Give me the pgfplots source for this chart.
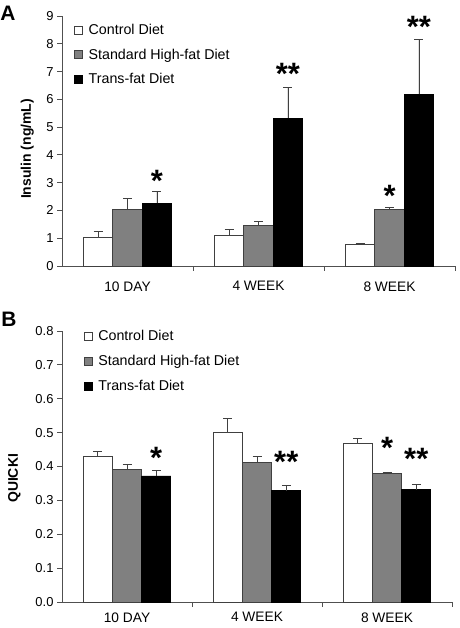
\documentclass[border=0pt]{standalone}
\usepackage{pgfplots}
\pgfplotsset{compat=1.18}
\usepackage{fontspec}
\setmainfont{Liberation Sans}
\definecolor{axgray}{HTML}{505050}
\definecolor{barline}{HTML}{404040}
\definecolor{midgray}{HTML}{808080}
\pgfplotsset{
  /pgf/number format/assume math mode=true,
  common/.style={
    scale only axis,
    xmin=-0.5, xmax=2.5, ymin=0,
    axis x line*=bottom, axis y line*=left,
    axis line style={draw=axgray, line width=0.8bp},
    tick align=outside,
    major tick length=5bp, minor tick length=5bp,
    xtick={0,1,2}, xticklabels={10 DAY,4 WEEK,8 WEEK},
    minor xtick={0.5,1.5,2.5},
    major x tick style={draw=none},
    minor x tick style={draw=axgray, line width=0.8bp},
    ytick style={draw=axgray, line width=0.8bp},
    tick label style={font=\fontsize{13}{13}\selectfont},
    xticklabel style={yshift=-7bp, font=\fontsize{13.8}{13.8}\selectfont},
    ylabel style={font=\fontsize{14}{14}\selectfont\bfseries, anchor=center},
    legend cell align=left,
    legend image code/.code={\draw[##1, line width=0.6bp] (0bp,-4bp) rectangle (8bp,4bp); \path (12bp,0bp);},
    legend style={draw=none, fill=none, font=\fontsize{14.3}{14.3}\selectfont, anchor=north west,
      row sep=9bp, inner sep=0pt, nodes={inner sep=2bp}},
    clip=false,
  },
  bw/.style={ybar, bar width=0.225, bar shift=0, line width=0.8bp,
    error bars/y dir=plus, error bars/y explicit,
    error bars/error mark=-,
    error bars/error bar style={draw=barline, line width=0.8bp},
    error bars/error mark options={rotate=90, draw=barline, line width=0.8bp, mark size=4.5bp}},
  stars/.style={draw=none, mark=none, forget plot, nodes near coords, point meta=explicit symbolic,
    every node near coord/.style={anchor=center, yshift=-4bp, font=\fontsize{31}{31}\selectfont\bfseries}},
}
\begin{document}
\begin{tikzpicture}[x=1bp,y=1bp]
\path[use as bounding box] (0,0) rectangle (460,628);
\node[font=\fontsize{21}{21}\selectfont\bfseries] at (8,615) {A};
\node[font=\fontsize{21}{21}\selectfont\bfseries] at (9,309) {B};
% Panel A
\begin{axis}[common, at={(62bp,362bp)}, anchor=south west, width=393bp, height=250bp,
  ymax=9, ytick={0,1,...,9},
  ylabel={Insulin (ng/mL)}, ylabel style={at={(axis description cs:-0.088,0.468)}},
  legend style={at={(axis description cs:0.03,0.977)}}]
\addplot[bw, fill=white, draw=barline] coordinates {(-0.225,1.03) +- (0,0.21) (0.775,1.09) +- (0,0.23) (1.775,0.76) +- (0,0.05)};
\addplot[bw, fill=midgray, draw=barline] coordinates {(0,2.02) +- (0,0.42) (1,1.45) +- (0,0.16) (2,2.02) +- (0,0.09)};
\addplot[bw, fill=black, draw=black] coordinates {(0.225,2.26) +- (0,0.42) (1.225,5.32) +- (0,1.10) (2.225,6.18) +- (0,1.97)};
\legend{Control Diet, Standard High-fat Diet, Trans-fat Diet}
\addplot[stars] coordinates {(0.225,3.2) [*] (1.225,7.06) [**] (2.225,8.76) [**] (2,2.68) [*]};
\end{axis}
% Panel B
\begin{axis}[common, at={(62bp,26bp)}, anchor=south west, width=390bp, height=271bp,
  ymax=0.8, ytick={0,0.1,...,0.8},
  xticklabel style={yshift=5bp},
  yticklabel style={/pgf/number format/.cd, fixed, fixed zerofill, precision=1},
  ylabel={QUICKI}, ylabel style={at={(axis description cs:-0.122,0.456)}},
  legend style={at={(axis description cs:0.055,1.01)}}]
\addplot[bw, fill=white, draw=barline] coordinates {(-0.225,0.429) +- (0,0.016) (0.775,0.501) +- (0,0.041) (1.775,0.468) +- (0,0.014)};
\addplot[bw, fill=midgray, draw=barline] coordinates {(0,0.392) +- (0,0.015) (1,0.412) +- (0,0.017) (2,0.380) +- (0,0.004)};
\addplot[bw, fill=black, draw=black] coordinates {(0.225,0.372) +- (0,0.017) (1.225,0.328) +- (0,0.015) (2.225,0.332) +- (0,0.016)};
\legend{Control Diet, Standard High-fat Diet, Trans-fat Diet}
\addplot[stars] coordinates {(0.225,0.436) [*] (1.225,0.426) [**] (2,0.467) [*] (2.225,0.435) [**]};
\end{axis}
\end{tikzpicture}
\end{document}
